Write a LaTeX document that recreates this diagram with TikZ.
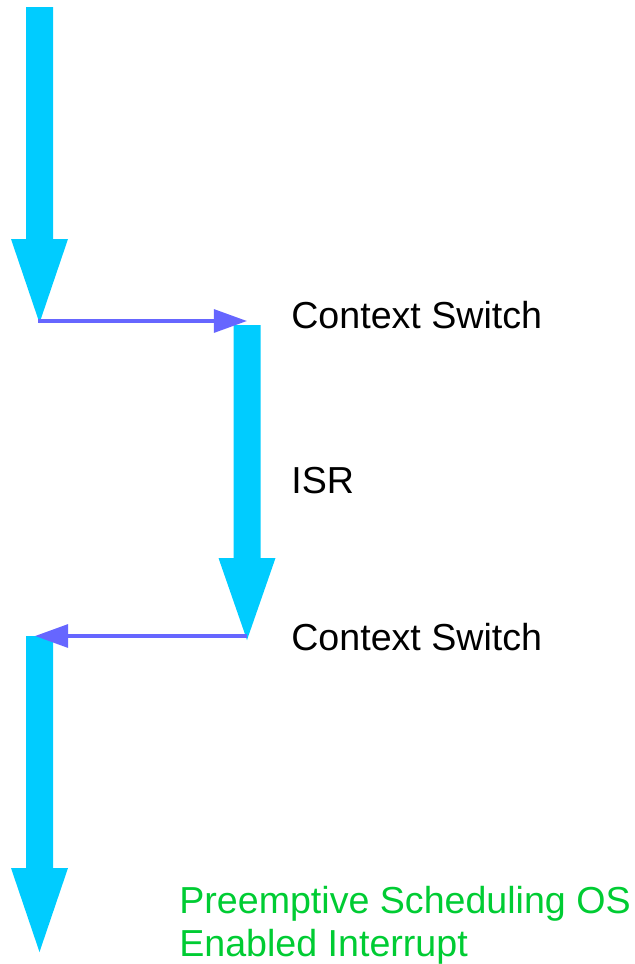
\documentclass[tikz,border=0pt]{standalone}
\usepackage{fontspec}
\setmainfont{Liberation Sans}
\usetikzlibrary{arrows.meta, positioning, calc}

\definecolor{flowcyan}{HTML}{00CCFF}
\definecolor{switchblue}{HTML}{6666FF}
\definecolor{notegreen}{HTML}{00CC33}

% fat downward arrow: centre x, top y, head y, tip y
\newcommand{\flowarrow}[4]{%
  \fill[flowcyan] (#1-13.5,#2) -- (#1+13.5,#2) -- (#1+13.5,#3) -- (#1+28.5,#3)
    -- (#1,#4) -- (#1-28.5,#3) -- (#1-13.5,#3) -- cycle;}

\begin{document}
\begin{tikzpicture}[
    x=0.02cm, y=-0.02cm,
    font=\fontsize{21.4}{24}\selectfont,
    label/.style={inner sep=0pt, anchor=base west},
    switch/.style={draw=switchblue, line width=2pt, -{Triangle[length=18.8pt, width=13pt]}},
]
\useasboundingbox (0,0) rectangle (635,964);

% program flow
\flowarrow{39.5}{7}{239}{323}
\flowarrow{247}{325}{558}{640}
\flowarrow{39.5}{636}{868}{952}

\coordinate (mainend) at (38,321);
\coordinate (isrtop) at (247,321);
\coordinate (isrend) at (247,636);
\coordinate (maintop) at (35,636);

% context switches
\draw[switch] (mainend) -- (isrtop);
\draw[switch] (isrend) -- (maintop);

\node[label] (cs1) at (291,328) {Context Switch};
\node[label] (isr) at (291,493) {ISR};
\node[label] (cs2) at (291,650) {Context Switch};
\node[label, text=notegreen, align=left] (note) at (179,956) {Preemptive Scheduling OS\\Enabled Interrupt};
\end{tikzpicture}
\end{document}
